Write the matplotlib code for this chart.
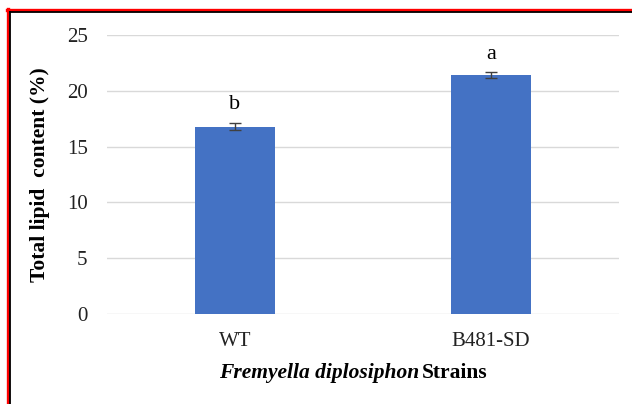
import numpy as np
import matplotlib.pyplot as plt
from matplotlib.lines import Line2D

# Teor lipídico total por linhagem
strains = ["WT", "B481-SD"]
lipid = [16.8, 21.4]
lipid_err = [0.35, 0.25]
letters = ["b", "a"]

plt.rcParams["font.family"] = ["Liberation Serif", "DejaVu Serif"]

W, H = 632, 404
fig = plt.figure(figsize=(W / 100, H / 100), dpi=100)
ax = fig.add_axes([107 / W, 1 - 314 / H, (619 - 107) / W, (314 - 35) / H])

x = np.arange(len(strains))
ax.bar(x, lipid, width=0.31, color="#4472C4", zorder=3)
ax.errorbar(x, lipid, yerr=lipid_err, fmt="none", ecolor="#404040",
            elinewidth=1, capsize=4.5, capthick=1, zorder=4)

for xi, v, e, lt in zip(x, lipid, lipid_err, letters):
    ax.text(xi, v + e + 0.75, lt, ha="center", va="bottom", fontsize=16)

ax.set_xlim(-0.5, 1.5)
ax.set_ylim(0, 25)
ax.set_yticks(range(0, 26, 5))
ax.set_xticks(x)
ax.set_xticklabels(strains)
ax.tick_params(axis="both", length=0, labelsize=15, colors="#222222")
ax.tick_params(axis="y", pad=14)
ax.tick_params(axis="x", pad=13)
ax.yaxis.grid(True, color="#d9d9d9", linewidth=1, zorder=0)
for s in ax.spines.values():
    s.set_visible(False)

ax.set_ylabel("Total lipid  content (%)", fontsize=15.5, fontweight="bold", labelpad=12)

# Rótulo do eixo x: nome da espécie em itálico + "Strains"
fig.text(419 / W, 1 - 373 / H, "Fremyella diplosiphon", fontsize=15.5,
         fontweight="bold", fontstyle="italic", ha="right", va="center")
fig.text(422 / W, 1 - 373 / H, "Strains", fontsize=15.5,
         fontweight="bold", ha="left", va="center")

# Moldura vermelha e preta
fig.add_artist(Line2D([7 / W, 1], [1 - 9.5 / H] * 2, color="red", lw=2.4,
                      transform=fig.transFigure))
fig.add_artist(Line2D([8 / W] * 2, [0, 1 - 9 / H], color="red", lw=2.4,
                      transform=fig.transFigure))
fig.add_artist(Line2D([10.5 / W, 1], [1 - 12 / H] * 2, color="black", lw=1.3,
                      transform=fig.transFigure))
fig.add_artist(Line2D([10.5 / W] * 2, [0, 1 - 12 / H], color="black", lw=1.3,
                      transform=fig.transFigure))

fig.savefig("out.png", dpi=100, facecolor="white")
